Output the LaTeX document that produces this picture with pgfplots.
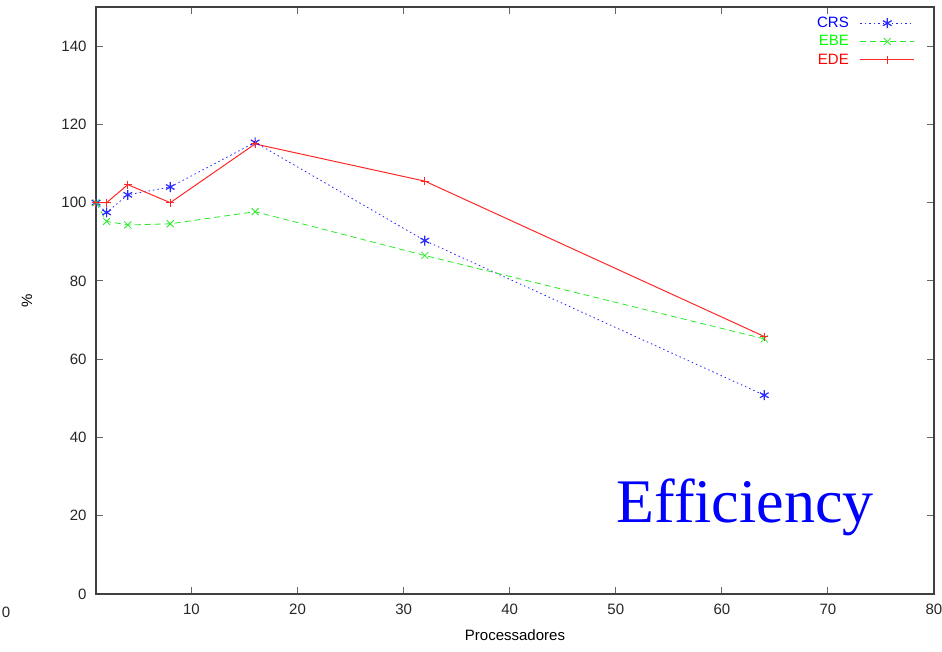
\documentclass[border=0pt]{standalone}
\usepackage{pgfplots}
\pgfplotsset{compat=1.18}
\usepackage{fontspec}
\setmainfont{Liberation Sans}
\newfontfamily\serifefont{Liberation Serif}
\definecolor{cblue}{RGB}{40,40,255}
\definecolor{cgreen}{RGB}{40,235,40}
\definecolor{cred}{RGB}{255,40,40}
\begin{document}
\begin{tikzpicture}
\begin{axis}[
  scale only axis,
  width=838pt, height=587pt,
  xmin=1, xmax=80, ymin=0, ymax=150,
  xtick={10,20,...,80},
  ytick={0,20,...,140},
  tick align=inside,
  major tick length=7pt,
  axis line style={black!75, line width=1.3pt},
  every tick/.style={black!60, line width=0.9pt},
  /pgf/number format/assume math mode=true,
  ticklabel style={font=\fontsize{15}{18}\selectfont, black!85},
  xticklabel style={yshift=-6pt},
  yticklabel style={xshift=-6pt},
  xlabel={Processadores},
  ylabel={\%},
  every axis x label/.style={at={(axis description cs:0.5,0)}, anchor=center, yshift=-41pt, font=\fontsize{15}{18}\selectfont},
  every axis y label/.style={at={(axis description cs:0,0.5)}, anchor=center, xshift=-69pt, rotate=90, font=\fontsize{15}{18}\selectfont},
  legend style={draw=none, fill=none, at={(rel axis cs:1,1)}, anchor=north east, xshift=-16pt, yshift=-6pt,
    font=\fontsize{15}{17}\selectfont, cells={anchor=east}, row sep=2.5pt,
    /tikz/every odd column/.append style={column sep=9pt}},
  legend plot pos=right,
  legend image code/.code={\draw[mark repeat=2, mark phase=2, #1] plot coordinates {(0pt,0pt) (27pt,0pt) (54pt,0pt)};},
]
\addplot[cblue, line width=0.8pt, dash pattern=on 1.5pt off 3pt, mark=asterisk, mark size=5pt, mark options={solid, line width=1.2pt}]
  coordinates {(1,100) (2,97.5) (4,102) (8,104) (16,115.4) (32,90.3) (64,50.8)};
\addlegendentry[text=blue]{CRS}
\addplot[cgreen, line width=0.8pt, dash pattern=on 6pt off 4pt, mark=x, mark size=5pt, mark options={solid}]
  coordinates {(1,100) (2,95.2) (4,94.3) (8,94.6) (16,97.7) (32,86.5) (64,65.2)};
\addlegendentry[text=green]{EBE}
\addplot[cred, line width=1pt, mark=+, mark size=4pt]
  coordinates {(1,100) (2,100) (4,104.6) (8,100) (16,115) (32,105.5) (64,65.8)};
\addlegendentry[text=red]{EDE}
\node[anchor=base, text=blue, font=\serifefont\fontsize{62}{70}\selectfont] at (axis cs:62.2,18.2) {Efficiency};
\end{axis}
\node[font=\fontsize{15}{18}\selectfont, black!85] at (-90pt,-18pt) {0};
\pgfresetboundingbox
\path[use as bounding box] (-96pt,-57pt) rectangle (846pt,594pt);
\end{tikzpicture}
\end{document}
